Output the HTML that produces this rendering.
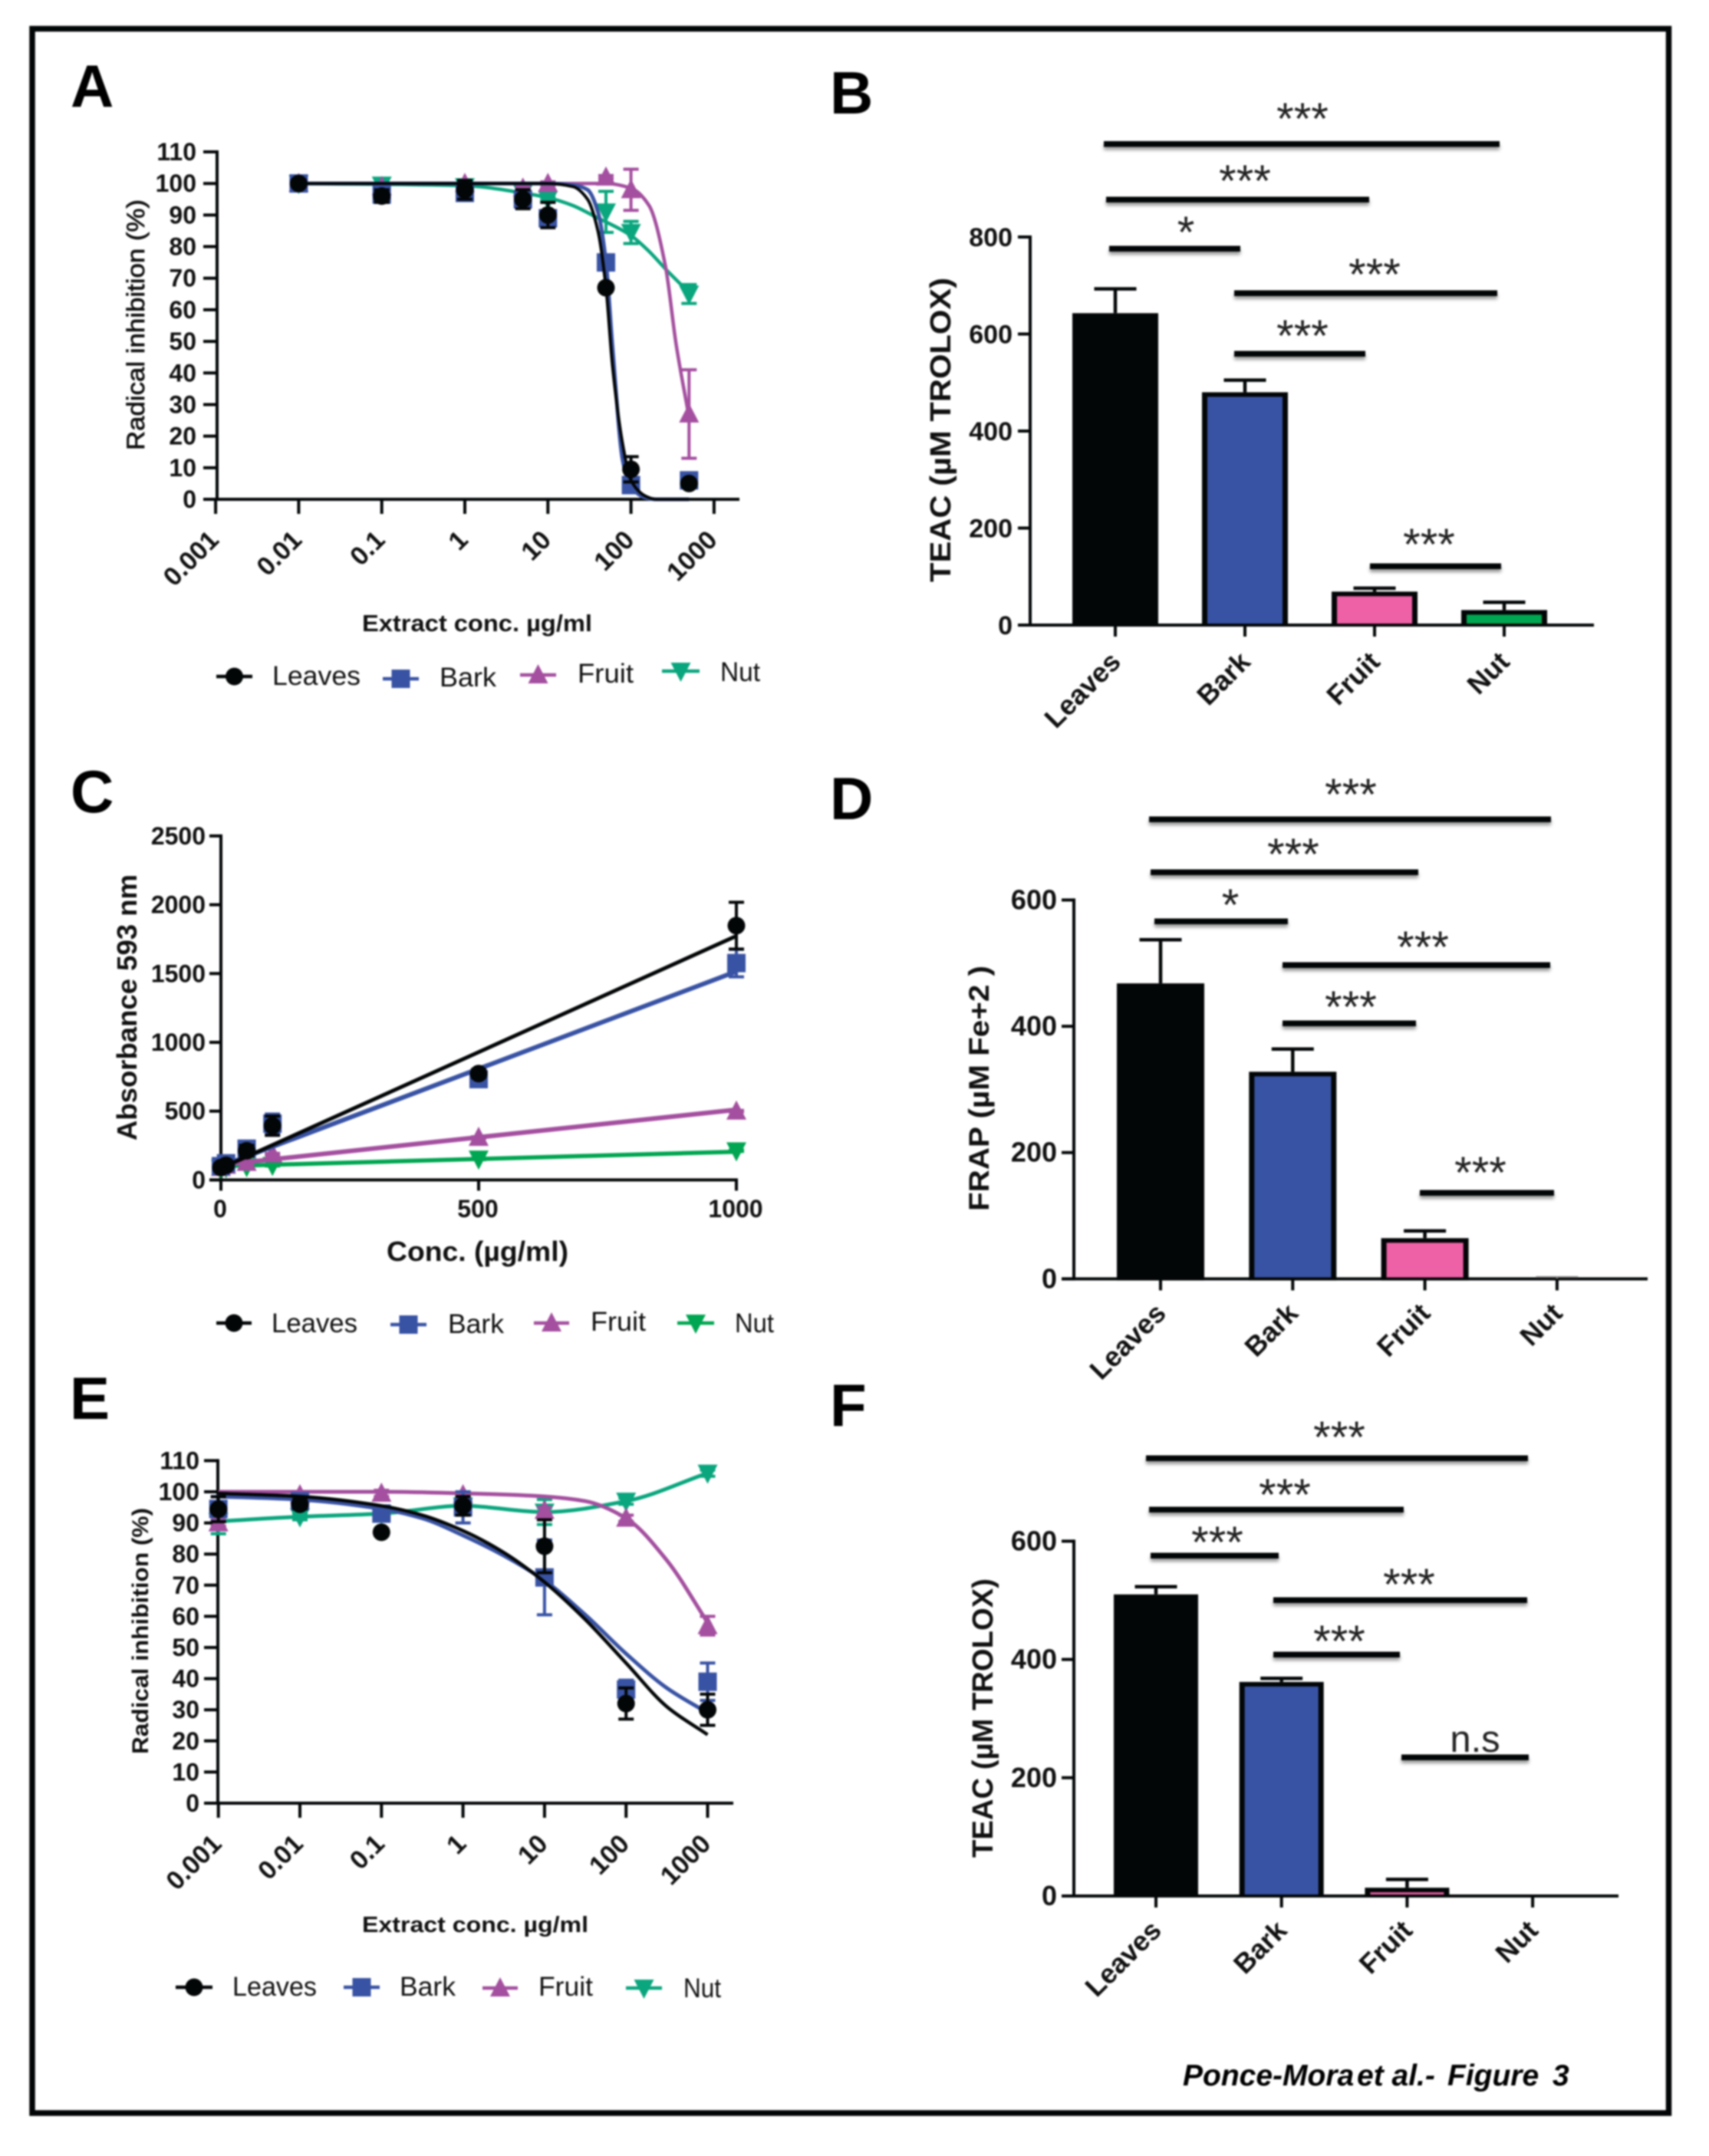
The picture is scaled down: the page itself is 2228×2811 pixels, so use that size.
<!DOCTYPE html>
<html lang="en">
<head>
<meta charset="utf-8">
<title>Ponce-Mora et al. Figure 3</title>
<style>
html,body{margin:0;padding:0;background:#fff;}
#figure{display:block;width:2228px;height:2811px;filter:blur(1px);font-family:"Liberation Sans",Arial,sans-serif;}
.bracket{filter:drop-shadow(0 4px 2px rgba(0,0,0,.4));}
</style>
</head>
<body>
<svg id="figure" width="2228" height="2811" viewBox="0 0 2228 2811">
  <rect x="0" y="0" width="2228" height="2811" fill="#fff"/>
  <rect x="42" y="37.5" width="2133.5" height="2717.5" fill="none" stroke="#030607" stroke-width="7.5"/>
  <text x="92" y="139" font-size="78" font-weight="bold">A</text>
  <text x="1082" y="148" font-size="78" font-weight="bold">B</text>
  <text x="92" y="1059" font-size="78" font-weight="bold">C</text>
  <text x="1082" y="1068" font-size="78" font-weight="bold">D</text>
  <text x="91" y="1850" font-size="78" font-weight="bold">E</text>
  <text x="1082" y="1859" font-size="78" font-weight="bold">F</text>
  <text y="2719" font-size="39" font-weight="bold" font-style="italic"><tspan x="1542">Ponce-Mora</tspan><tspan x="1769">et al.-</tspan><tspan x="1887">Figure</tspan><tspan x="2024">3</tspan></text>
</svg>
<script>
/* ---------- Panel A data ---------- */
const aConc = [0.01, 0.1, 1, 5, 10, 50, 100, 500];
const aLeaves = [100, 96, 98, 95, 90, 67, 9.5, 5];
const aLeavesErr = [1, 2, 3, 3, 4, 1, 4, 1];
const aBark = [100, 96.5, 97, 95, 89, 75, 4.5, 6];
const aBarkErr = [1, 1.5, 2, 1.5, 2, 1.5, 1.5, 1];
const aFruit = [100, 99, 100, 98.5, 100, 102, 98, 27];
const aFruitErr = [0.5, 0.5, 0.5, 0.5, 0.5, 0.5, 6.5, 14];
const aNut = [100, 99.5, 99, 97, 95, 91, 84.5, 65];
const aNutErr = [0.5, 0.5, 0.5, 0.5, 0.5, 6.5, 3.5, 3];
const aFitLeavesConc = [0.01, 1, 10, 20, 30, 40, 50, 60, 80, 100, 150, 200, 500];
const aFitLeaves = [100, 100, 100, 99, 95, 85, 67, 42, 17, 6, 1, 0, 0];
const aFitBarkConc = [0.01, 1, 10, 20, 30, 40, 50, 60, 80, 100, 150, 200, 500];
const aFitBark = [100, 100, 100, 99.5, 98, 91, 75, 48, 12, 4, 0.5, 0, 0];
const aFitFruitConc = [0.01, 1, 10, 50, 100, 165, 259, 350, 500];
const aFitFruit = [100, 100, 100, 100, 98.5, 93, 74, 49, 26];
const aFitNutConc = [0.01, 1, 5, 10, 20, 37, 100, 165, 270, 500];
const aFitNut = [100, 99.3, 97, 95.5, 93, 89.5, 83.5, 78.5, 72.5, 65.5];
const aYTicks = [0, 10, 20, 30, 40, 50, 60, 70, 80, 90, 100, 110];
const aXTicks = [0.001, 0.01, 0.1, 1, 10, 100, 1000];

/* ---------- Panel C data ---------- */
const cConc = [0, 10, 50, 100, 500, 1000];
const cLeaves = [90, 106, 212, 394, 773, 1848];
const cLeavesErr = [15, 15, 40, 70, 30, 170];
const cBark = [100, 121, 227, 409, 733, 1576];
const cBarkErr = [15, 15, 40, 70, 30, 100];
const cFruit = [90, 106, 127, 188, 309, 500];
const cFruitErr = [5, 5, 5, 5, 5, 5];
const cNut = [85, 90, 97, 106, 152, 212];
const cNutErr = [5, 5, 5, 5, 5, 5];
const cFitConc = [0, 1000];
const cFitLeaves = [85, 1773];
const cFitBark = [100, 1515];
const cFitFruit = [110, 510];
const cFitNut = [100, 205];
const cYTicks = [0, 500, 1000, 1500, 2000, 2500];
const cXTicks = [0, 500, 1000];

/* ---------- Panel E data ---------- */
const eConc = [0.001, 0.01, 0.1, 1, 10, 100, 1000];
const eLeaves = [94.4, 96, 87, 95.5, 82.5, 32, 30];
const eLeavesErr = [4, 1.5, 1, 3, 8.5, 5, 5];
const eBark = [94.5, 97, 93, 95, 72.5, 36.5, 39];
const eBarkErr = [4, 1.5, 2, 5, 12, 3, 6];
const eFruit = [90, 99, 99.5, 99, 94, 91.5, 57];
const eFruitErr = [1, 1, 1, 1, 1, 1, 3];
const eNut = [90.5, 92, 93, 95.5, 93.5, 97, 106];
const eNutErr = [4, 1, 2, 1, 4, 1, 1];
const eFitConc = [0.001, 0.01, 0.1, 0.316, 1, 3.16, 10, 31.6, 100, 316, 1000];
const eFitLeaves = [99.5, 98.5, 95.5, 92.5, 87.5, 80.5, 71, 59, 45, 31, 22];
const eFitBark = [98.5, 97.5, 94.5, 91.5, 86, 79.5, 71.5, 60.5, 48, 37, 29];
const eFitFruitConc = [0.001, 0.1, 1, 10, 31.6, 100, 316, 1000];
const eFitFruit = [100, 100, 99.5, 98.5, 97, 91.5, 78, 58];
const eYTicks = [0, 10, 20, 30, 40, 50, 60, 70, 80, 90, 100, 110];
const eXTicks = [0.001, 0.01, 0.1, 1, 10, 100, 1000];

/* ---------- Bar panel data ---------- */
const barCategories = ['Leaves', 'Bark', 'Fruit', 'Nut'];
const bValues = [643, 480, 69, 31];
const bErrors = [50, 25, 7, 16];
const bYTicks = [0, 200, 400, 600, 800];
const dValues = [468, 328, 64.5, 0];
const dErrors = [69, 36, 11.5, 3];
const dYTicks = [0, 200, 400, 600];
const fValues = [510, 362, 14, 0];
const fErrors = [13, 6, 14, 0];
const fYTicks = [0, 200, 400, 600];

/* ---------- Shared helpers ---------- */
const root = document.getElementById('figure');
const NS = root.namespaceURI;
const INK = '#030607';
const BLUE = '#3953a4';
const PURPLE = '#a44f9f';
const TEAL = '#0aa67e';
const GREEN = '#00a651';
const PINK = '#ee61a6';
const FONT_LEGEND = 35;

function mk(tag, attrs, parent) {
  const e = document.createElementNS(NS, tag);
  for (const k in attrs) e.setAttribute(k, attrs[k]);
  parent.appendChild(e);
  return e;
}
function label(parent, s, attrs) {
  const e = mk('text', attrs, parent);
  e.textContent = s;
  return e;
}
function log10Scale(refPx, perDecade) {
  return v => refPx + (Math.log10(v) + 2) * perDecade;
}
function linScale(zeroPx, perUnit) {
  return v => zeroPx + v * perUnit;
}
function monotonePath(pts) {
  if (pts.length < 3) return 'M' + pts.map(p => p[0].toFixed(1) + ' ' + p[1].toFixed(1)).join('L');
  const n = pts.length, d = [], m = [];
  for (let i = 0; i < n - 1; i++) d.push((pts[i + 1][1] - pts[i][1]) / (pts[i + 1][0] - pts[i][0]));
  m[0] = d[0];
  m[n - 1] = d[n - 2];
  for (let i = 1; i < n - 1; i++) {
    if (d[i - 1] * d[i] <= 0) m[i] = 0;
    else {
      const h0 = pts[i][0] - pts[i - 1][0], h1 = pts[i + 1][0] - pts[i][0];
      m[i] = 3 * (h0 + h1) / ((2 * h1 + h0) / d[i - 1] + (h1 + 2 * h0) / d[i]);
    }
  }
  let out = 'M' + pts[0][0].toFixed(1) + ' ' + pts[0][1].toFixed(1);
  for (let i = 0; i < n - 1; i++) {
    const h = (pts[i + 1][0] - pts[i][0]) / 3;
    out += 'C' + (pts[i][0] + h).toFixed(1) + ' ' + (pts[i][1] + m[i] * h).toFixed(1) + ' ' +
      (pts[i + 1][0] - h).toFixed(1) + ' ' + (pts[i + 1][1] - m[i + 1] * h).toFixed(1) + ' ' +
      pts[i + 1][0].toFixed(1) + ' ' + pts[i + 1][1].toFixed(1);
  }
  return out;
}
function drawMarker(parent, shape, x, y, color) {
  if (shape === 'circle') return mk('circle', { cx: x, cy: y, r: 11.5, fill: color }, parent);
  if (shape === 'square') return mk('rect', { x: x - 12, y: y - 12, width: 24, height: 24, fill: color }, parent);
  if (shape === 'up') return mk('polygon', { points: (x - 13) + ',' + (y + 11) + ' ' + (x + 13) + ',' + (y + 11) + ' ' + x + ',' + (y - 14), fill: color }, parent);
  return mk('polygon', { points: (x - 13) + ',' + (y - 11) + ' ' + (x + 13) + ',' + (y - 11) + ' ' + x + ',' + (y + 14), fill: color }, parent);
}

/* ---------- Axes ---------- */
function drawAxes(g, ax) {
  const yAxis = mk('line', { x1: ax.xAxisAt, x2: ax.xAxisAt, y1: ax.y(ax.yTicks[ax.yTicks.length - 1]) - 2, y2: ax.y(0) + 2, stroke: INK, 'stroke-width': 4 }, g);
  
  
  const xAxis = mk('line', { x1: ax.tickLeft, x2: ax.xEnd, y1: ax.y(0), y2: ax.y(0), stroke: INK, 'stroke-width': 4 }, g);
  
  
  ax.yTicks.forEach(t => {
    const tick = mk('line', { x1: ax.tickLeft, x2: ax.xAxisAt, y1: ax.y(t), y2: ax.y(t), stroke: INK, 'stroke-width': 4 }, g);
    
    
    const tl = label(g, String(t), { x: ax.yLabelX, y: ax.y(t) + ax.yLabelDy, 'font-size': ax.tickFont, 'font-weight': 'bold', 'text-anchor': 'end', fill: '#111' });
    
    
  });
}
function drawAxisTitles(g, t) {
  const xt = label(g, t.xText, { x: t.xX, y: t.xY, 'font-size': t.xFont, 'font-weight': 'bold', textLength: t.xLen, lengthAdjust: 'spacingAndGlyphs', fill: '#111' });
  
  
  drawYTitle(g, t);
}
function drawYTitle(g, t) {
  const yt = label(g, t.yText, { transform: 'translate(' + t.yX + ' ' + t.yBottom + ') rotate(-90)', x: 0, y: 0, 'font-size': t.yFont, 'font-weight': t.yWeight, textLength: t.yLen, lengthAdjust: 'spacingAndGlyphs', fill: '#111', stroke: t.yStroke || 'none', 'stroke-width': 0.7 }, g);
  
  
}

/* ---------- Line panels ---------- */
function drawSeries(g, s, xs, ys, lineWidth) {
  const sg = mk('g', {}, g);
  
  
  const pts = s.fitConc.map((c, i) => [xs(c), ys(s.fitVals[i])]);
  const curve = mk('path', { d: monotonePath(pts), fill: 'none', stroke: s.color, 'stroke-width': lineWidth }, sg);
  
  
  s.conc.forEach((c, i) => {
    const x = xs(c), hi = ys(s.vals[i] + s.errs[i]), lo = ys(s.vals[i] - s.errs[i]);
    const err = mk('path', { d: 'M' + (x - 10) + ' ' + hi + 'H' + (x + 10) + 'M' + x + ' ' + hi + 'V' + lo + 'M' + (x - 10) + ' ' + lo + 'H' + (x + 10), fill: 'none', stroke: s.color, 'stroke-width': 4 }, sg);
    
    
    const marker = drawMarker(sg, s.shape, x, ys(s.vals[i]), s.color);
    
    
  });
}
function drawLegend(g, entries) {
  entries.forEach(en => {
    const lg = mk('g', {}, g);
    
    
    mk('line', { x1: en.x1, x2: en.x2, y1: en.y, y2: en.y, stroke: en.color, 'stroke-width': 4.5 }, lg);
    drawMarker(lg, en.shape, (en.x1 + en.x2) / 2, en.y, en.color);
    label(lg, en.name, { x: en.tx, y: en.ty, 'font-size': FONT_LEGEND, textLength: en.tw, lengthAdjust: 'spacingAndGlyphs', fill: '#111' });
  });
}
function drawLogXTicks(g, ticks, xs, ax) {
  ticks.forEach(t => {
    const tick = mk('line', { x1: xs(t), x2: xs(t), y1: ax.y(0), y2: ax.y(0) + 19, stroke: INK, 'stroke-width': 4 }, g);
    
    
    const px = xs(t) + 6, py = ax.y(0) + 55;
    const tl = label(g, String(t), { transform: 'rotate(-45 ' + px + ' ' + py + ')', x: px, y: py, 'font-size': 34, 'font-weight': 'bold', 'text-anchor': 'end', fill: '#111' });
    
    
  });
}

/* Panel A */
(function () {
  const g = mk('g', {}, root);
  
  
  const xs = log10Scale(389.4, 108.3);
  const ys = linScale(651, -4.118);
  const ax = { xAxisAt: 283, xEnd: 964, tickLeft: 265, y: ys, yTicks: aYTicks, yLabelX: 256, yLabelDy: 11, tickFont: 32 };
  drawAxes(g, ax);
  drawLogXTicks(g, aXTicks, xs, ax);
  drawAxisTitles(g, { xText: 'Extract conc. µg/ml', xX: 472, xY: 823, xFont: 31, xLen: 300, yText: 'Radical inhibition (%)', yX: 188, yBottom: 587, yFont: 32, yWeight: 'normal', yStroke: '#111', yLen: 327 });
  drawSeries(g, { name: 'Nut', color: TEAL, shape: 'down', conc: aConc, vals: aNut, errs: aNutErr, fitConc: aFitNutConc, fitVals: aFitNut }, xs, ys, 4.5);
  drawSeries(g, { name: 'Fruit', color: PURPLE, shape: 'up', conc: aConc, vals: aFruit, errs: aFruitErr, fitConc: aFitFruitConc, fitVals: aFitFruit }, xs, ys, 4.5);
  drawSeries(g, { name: 'Bark', color: BLUE, shape: 'square', conc: aConc, vals: aBark, errs: aBarkErr, fitConc: aFitBarkConc, fitVals: aFitBark }, xs, ys, 5);
  drawSeries(g, { name: 'Leaves', color: INK, shape: 'circle', conc: aConc, vals: aLeaves, errs: aLeavesErr, fitConc: aFitLeavesConc, fitVals: aFitLeaves }, xs, ys, 4);
  drawLegend(g, [
    { name: 'Leaves', color: INK, shape: 'circle', x1: 282, x2: 329, y: 882, tx: 355, ty: 893, tw: 115 },
    { name: 'Bark', color: BLUE, shape: 'square', x1: 499, x2: 546, y: 885, tx: 573, ty: 895, tw: 74 },
    { name: 'Fruit', color: PURPLE, shape: 'up', x1: 678, x2: 725, y: 880, tx: 753, ty: 890, tw: 73 },
    { name: 'Nut', color: TEAL, shape: 'down', x1: 863, x2: 912, y: 875, tx: 939, ty: 888, tw: 52 }
  ]);
})();

/* Panel C */
(function () {
  const g = mk('g', {}, root);
  
  
  const xs = linScale(288, 0.672);
  const ys = linScale(1538.4, -0.1794);
  const ax = { xAxisAt: 288, xEnd: 962, tickLeft: 273, y: ys, yTicks: cYTicks, yLabelX: 268, yLabelDy: 11, tickFont: 32 };
  drawAxes(g, ax);
  cXTicks.forEach(t => {
    const tick = mk('line', { x1: xs(t), x2: xs(t), y1: ys(0), y2: ys(0) + 14, stroke: INK, 'stroke-width': 4 }, g);
    
    
    const tl = label(g, String(t), { x: xs(t) - 1, y: 1587, 'font-size': 32, 'font-weight': 'bold', 'text-anchor': 'middle', fill: '#111' });
    
    
  });
  drawAxisTitles(g, { xText: 'Conc. (µg/ml)', xX: 504, xY: 1644, xFont: 36, xLen: 237, yText: 'Absorbance 593 nm', yX: 178, yBottom: 1487, yFont: 36, yWeight: 'bold', yLen: 347 });
  drawSeries(g, { name: 'Nut', color: GREEN, shape: 'down', conc: cConc, vals: cNut, errs: cNutErr, fitConc: cFitConc, fitVals: cFitNut }, xs, ys, 5.5);
  drawSeries(g, { name: 'Fruit', color: PURPLE, shape: 'up', conc: cConc, vals: cFruit, errs: cFruitErr, fitConc: cFitConc, fitVals: cFitFruit }, xs, ys, 6);
  drawSeries(g, { name: 'Bark', color: BLUE, shape: 'square', conc: cConc, vals: cBark, errs: cBarkErr, fitConc: cFitConc, fitVals: cFitBark }, xs, ys, 6);
  drawSeries(g, { name: 'Leaves', color: INK, shape: 'circle', conc: cConc, vals: cLeaves, errs: cLeavesErr, fitConc: cFitConc, fitVals: cFitLeaves }, xs, ys, 5);
  drawLegend(g, [
    { name: 'Leaves', color: INK, shape: 'circle', x1: 282, x2: 328, y: 1725, tx: 354, ty: 1737, tw: 112 },
    { name: 'Bark', color: BLUE, shape: 'square', x1: 509, x2: 556, y: 1727, tx: 584, ty: 1738, tw: 73 },
    { name: 'Fruit', color: PURPLE, shape: 'up', x1: 696, x2: 742, y: 1725, tx: 770, ty: 1735, tw: 72 },
    { name: 'Nut', color: GREEN, shape: 'down', x1: 883, x2: 931, y: 1725, tx: 958, ty: 1737, tw: 51 }
  ]);
})();

/* Panel E */
(function () {
  const g = mk('g', {}, root);
  
  
  const xs = log10Scale(391, 106.3);
  const ys = linScale(2351, -4.06);
  const ax = { xAxisAt: 284, xEnd: 956, tickLeft: 266, y: ys, yTicks: eYTicks, yLabelX: 260, yLabelDy: 11, tickFont: 32 };
  drawAxes(g, ax);
  drawLogXTicks(g, eXTicks, xs, ax);
  drawAxisTitles(g, { xText: 'Extract conc. µg/ml', xX: 472, xY: 2519, xFont: 29, xLen: 295, yText: 'Radical inhibition (%)', yX: 193, yBottom: 2287, yFont: 30, yWeight: 'bold', yLen: 321 });
  drawSeries(g, { name: 'Nut', color: TEAL, shape: 'down', conc: eConc, vals: eNut, errs: eNutErr, fitConc: eConc, fitVals: eNut }, xs, ys, 5);
  drawSeries(g, { name: 'Fruit', color: PURPLE, shape: 'up', conc: eConc, vals: eFruit, errs: eFruitErr, fitConc: eFitFruitConc, fitVals: eFitFruit }, xs, ys, 5);
  drawSeries(g, { name: 'Bark', color: BLUE, shape: 'square', conc: eConc, vals: eBark, errs: eBarkErr, fitConc: eFitConc, fitVals: eFitBark }, xs, ys, 5);
  drawSeries(g, { name: 'Leaves', color: INK, shape: 'circle', conc: eConc, vals: eLeaves, errs: eLeavesErr, fitConc: eFitConc, fitVals: eFitLeaves }, xs, ys, 4.5);
  drawLegend(g, [
    { name: 'Leaves', color: INK, shape: 'circle', x1: 229, x2: 277, y: 2591, tx: 303, ty: 2602, tw: 110 },
    { name: 'Bark', color: BLUE, shape: 'square', x1: 448, x2: 495, y: 2591, tx: 521, ty: 2602, tw: 73 },
    { name: 'Fruit', color: PURPLE, shape: 'up', x1: 629, x2: 675, y: 2592, tx: 702, ty: 2602, tw: 71 },
    { name: 'Nut', color: TEAL, shape: 'down', x1: 816, x2: 863, y: 2592, tx: 891, ty: 2604, tw: 49 }
  ]);
})();

/* ---------- Bar panels ---------- */
function drawBrackets(g, list) {
  list.forEach(b => {
    const r = mk('rect', { x: b[0], y: b[2] - 3.5, width: b[1] - b[0], height: 7.5, fill: INK, class: 'bracket' }, g);
    
    
  });
}
function drawStars(g, list) {
  list.forEach(s => {
    const t = label(g, s[0], { x: s[1], y: s[2] + 28, 'font-size': 58, 'text-anchor': 'middle', fill: '#222' });
    
    
  });
}
function drawBarPanel(g, cfg) {
  const ys = cfg.y;
  drawAxes(g, { xAxisAt: cfg.axisX, xEnd: cfg.xEnd, tickLeft: cfg.tickLeft, y: ys, yTicks: cfg.yTicks, yLabelX: cfg.yLabelX, yLabelDy: 12, tickFont: cfg.tickFont });
  const fills = [INK, BLUE, PINK, GREEN];
  barCategories.forEach((c, i) => {
    const cx = cfg.x0 + i * cfg.step;
    const v = cfg.values[i], e = cfg.errors[i];
    if (e > 0) {
      const err = mk('path', { d: 'M' + (cx - 27.5) + ' ' + ys(v + e) + 'H' + (cx + 27.5) + 'M' + cx + ' ' + ys(v + e) + 'V' + ys(v), fill: 'none', stroke: v > 0 ? INK : '#888', 'stroke-width': v > 0 ? 4.5 : 2 }, g);
      
      
    }
    if (v > 0) {
      const outline = mk('rect', { x: cx - cfg.barW / 2, y: ys(v), width: cfg.barW, height: ys(0) - ys(v) + 2, fill: INK }, g);
      
      
      const inner = mk('rect', { x: cx - cfg.barW / 2 + 7, y: ys(v) + 6, width: cfg.barW - 14, height: Math.max(ys(0) - ys(v) - 8, 0.5), fill: fills[i] }, g);
      
      
    }
    const tick = mk('line', { x1: cx, x2: cx, y1: ys(0), y2: ys(0) + 15, stroke: INK, 'stroke-width': 4 }, g);
    
    
    const px = cx + 9, py = ys(0) + cfg.labelDy;
    const tl = label(g, c, { transform: 'rotate(-45 ' + px + ' ' + py + ')', x: px, y: py, 'font-size': 36, 'font-weight': 'bold', 'text-anchor': 'end', fill: '#111' });
    
    
  });
}

/* Panel B */
(function () {
  const g = mk('g', {}, root);
  
  
  drawBarPanel(g, { y: linScale(815, -0.6325), axisX: 1343, xEnd: 2078, tickLeft: 1327, yLabelX: 1320, tickFont: 34, yTicks: bYTicks, x0: 1454, step: 169, barW: 112, values: bValues, errors: bErrors, labelDy: 50 });
  drawYTitle(g, { yText: 'TEAC (µM TROLOX)', yX: 1239, yBottom: 759, yFont: 38, yWeight: 'bold', yLen: 397 });
  drawBrackets(g, [[1439, 1955, 187.5], [1442, 1785, 260], [1446, 1617, 324], [1609, 1952, 382], [1609, 1780, 461], [1786, 1957, 738]]);
  drawStars(g, [['***', 1698, 147], ['***', 1623, 228], ['*', 1546, 295], ['***', 1792, 350], ['***', 1698, 430], ['***', 1863, 702]]);
})();

/* Panel D */
(function () {
  const g = mk('g', {}, root);
  
  
  drawBarPanel(g, { y: linScale(1667.4, -0.8233), axisX: 1400, xEnd: 2148, tickLeft: 1384, yLabelX: 1378, tickFont: 36, yTicks: dYTicks, x0: 1513, step: 172.3, barW: 114, values: dValues, errors: dErrors, labelDy: 47 });
  drawYTitle(g, { yText: 'FRAP (µM Fe+2 )', yX: 1289, yBottom: 1579, yFont: 37, yWeight: 'bold', yLen: 320 });
  drawBrackets(g, [[1498, 2022, 1068], [1500, 1849, 1137], [1505, 1679, 1201], [1672, 2021, 1258], [1672, 1846, 1334], [1851, 2026, 1555]]);
  drawStars(g, [['***', 1761, 1028], ['***', 1686, 1106], ['*', 1604, 1172], ['***', 1855, 1227], ['***', 1761, 1305], ['***', 1930, 1521]]);
})();

/* Panel F */
(function () {
  const g = mk('g', {}, root);
  
  
  drawBarPanel(g, { y: linScale(2472, -0.771), axisX: 1400, xEnd: 2110, tickLeft: 1384, yLabelX: 1378, tickFont: 36, yTicks: fYTicks, x0: 1507, step: 163.7, barW: 110, values: fValues, errors: fErrors, labelDy: 47 });
  drawYTitle(g, { yText: 'TEAC (µM TROLOX)', yX: 1294, yBottom: 2422, yFont: 38, yWeight: 'bold', yLen: 364 });
  drawBrackets(g, [[1494, 1992, 1901], [1498, 1830, 1968], [1500, 1667, 2028], [1660, 1991, 2086], [1660, 1825, 2157], [1827, 1993, 2291]]);
  drawStars(g, [['***', 1746, 1866], ['***', 1675, 1941], ['***', 1587, 2003], ['***', 1837, 2058], ['***', 1746, 2132]]);
  const ns = label(g, 'n.s', { x: 1923, y: 2284, 'font-size': 49, 'text-anchor': 'middle', fill: '#222' });
  
  
})();
</script>
</body>
</html>
